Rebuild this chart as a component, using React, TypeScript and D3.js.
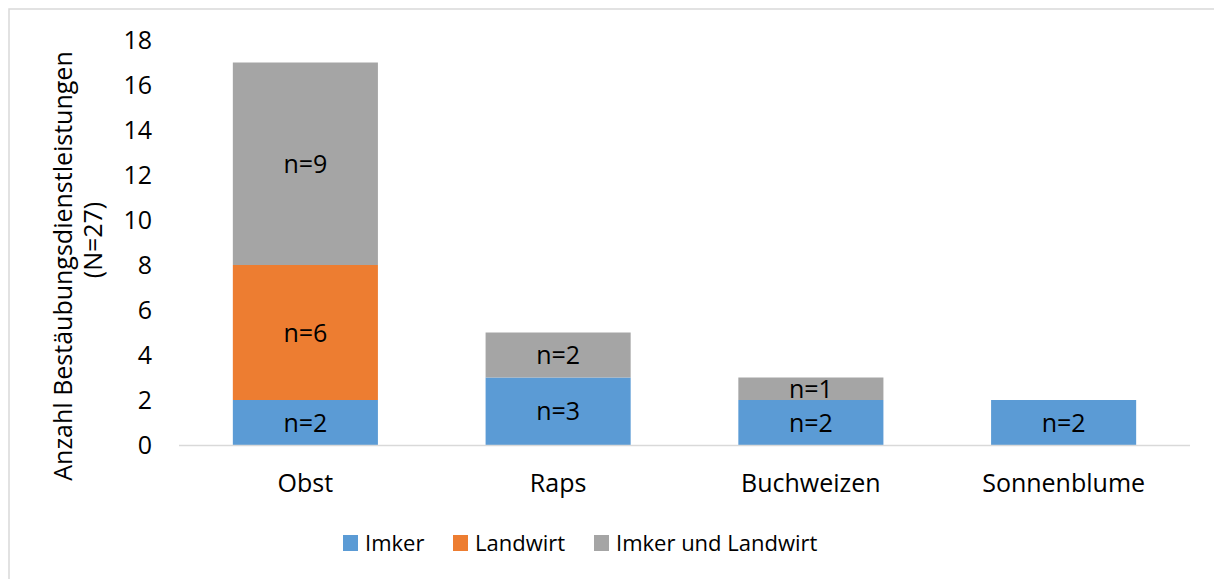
import React from "react";
import * as d3 from "d3";

const categories = ["Obst", "Raps", "Buchweizen", "Sonnenblume"];
const seriesNames = ["Imker", "Landwirt", "Imker und Landwirt"];
const imker = [2, 3, 2, 2];
const landwirt = [6, 0, 0, 0];
const beide = [9, 2, 1, 0];
const yTicks = [0, 2, 4, 6, 8, 10, 12, 14, 16, 18];
const colors = ["#5b9bd5", "#ed7d31", "#a5a5a5"];

const W = 1214;
const H = 579;
const FONT = "'Open Sans', Lato, sans-serif";

export default function App() {
  const rows = categories.map((c, i) => ({
    cat: c,
    s0: imker[i],
    s1: landwirt[i],
    s2: beide[i],
  }));
  const stack = d3.stack<any>().keys(["s0", "s1", "s2"]);
  const stacked = stack(rows);

  const x = d3
    .scaleBand<string>()
    .domain(categories)
    .range([179, 1190])
    .paddingInner(0.426)
    .paddingOuter(0.213);
  const y = d3.scaleLinear().domain([0, 18]).range([445, 40]);

  const legendItems = [
    { name: seriesNames[0], sx: 343, tx: 365 },
    { name: seriesNames[1], sx: 453, tx: 475 },
    { name: seriesNames[2], sx: 594, tx: 616 },
  ];

  return (
    <svg
      width={W}
      height={H}
      style={{ position: "absolute", left: 0, top: 0, background: "#fff" }}
      fontFamily={FONT}
    >
      <rect x={0} y={0} width={W} height={H} fill="#fff" />
      <rect
        x={9}
        y={9}
        width={W + 20}
        height={H + 20}
        fill="#fff"
        stroke="#d9d9d9"
        strokeWidth={1.5}
      />
      {/* y tick labels */}
      {yTicks.map((t) => (
        <text
          key={t}
          x={152}
          y={y(t)}
          dy="0.36em"
          textAnchor="end"
          fontSize={25}
          fill="#000"
        >
          {t}
        </text>
      ))}
      {/* bars */}
      {stacked.map((layer, si) =>
        layer.map((d, ci) => {
          const v = d[1] - d[0];
          if (v <= 0) return null;
          const x0 = x(categories[ci])!;
          return (
            <g key={`${si}-${ci}`}>
              <rect
                x={x0}
                y={y(d[1])}
                width={x.bandwidth()}
                height={y(d[0]) - y(d[1])}
                fill={colors[si]}
              />
              <text
                x={x0 + x.bandwidth() / 2}
                y={(y(d[0]) + y(d[1])) / 2}
                dy="0.36em"
                textAnchor="middle"
                fontSize={25}
                fill="#000"
              >
                {`n=${v}`}
              </text>
            </g>
          );
        })
      )}
      {/* baseline */}
      <line
        x1={179}
        x2={1190}
        y1={y(0) + 0.5}
        y2={y(0) + 0.5}
        stroke="#d9d9d9"
        strokeWidth={1.5}
      />
      {/* category labels */}
      {categories.map((c) => (
        <text
          key={c}
          x={x(c)! + x.bandwidth() / 2}
          y={492}
          textAnchor="middle"
          fontSize={25}
          fill="#000"
        >
          {c}
        </text>
      ))}
      {/* y axis title */}
      <text
        transform={`translate(72,266) rotate(-90)`}
        textAnchor="middle"
        fontSize={25}
        fill="#000"
      >
        Anzahl Bestäubungsdienstleistungen
      </text>
      <text
        transform={`translate(102,240) rotate(-90)`}
        textAnchor="middle"
        fontSize={25}
        fill="#000"
      >
        (N=27)
      </text>
      {/* legend */}
      {legendItems.map((l, i) => (
        <g key={l.name}>
          <rect x={l.sx} y={535} width={15} height={16} fill={colors[i]} />
          <text x={l.tx} y={543} dy="0.36em" fontSize={22} fill="#000">
            {l.name}
          </text>
        </g>
      ))}
    </svg>
  );
}
